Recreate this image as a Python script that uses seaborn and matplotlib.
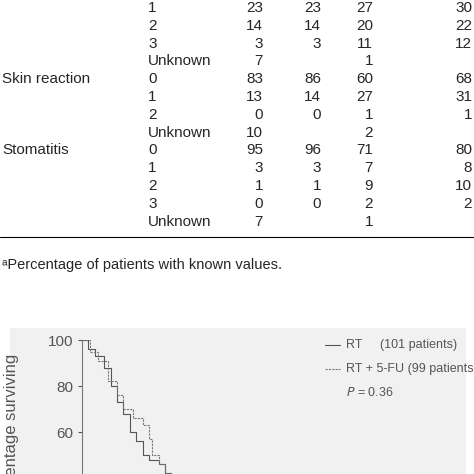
import matplotlib
matplotlib.use("Agg")
import matplotlib.pyplot as plt
import matplotlib.patches as mpatches
import seaborn as sns
import pandas as pd

sns.set_style("white")
plt.rcParams['font.family'] = ['Liberation Sans', 'DejaVu Sans']

# table rows: (toxicity label, grade, n RT, % RT, n RT+5-FU, % RT+5-FU)
row_labels = ["", "", "", "", "Skin reaction", "", "", "", "Stomatitis", "", "", "", ""]
grades = ["1", "2", "3", "Unknown", "0", "1", "2", "Unknown", "0", "1", "2", "3", "Unknown"]
col_a = ["23", "14", "3", "7", "83", "13", "0", "10", "95", "3", "1", "0", "7"]
col_b = ["23", "14", "3", "", "86", "14", "0", "", "96", "3", "1", "0", ""]
col_c = ["27", "20", "11", "1", "60", "27", "1", "2", "71", "7", "9", "2", "1"]
col_d = ["30", "22", "12", "", "68", "31", "1", "", "80", "8", "10", "2", ""]
footnote = "\u1d43Percentage of patients with known values."

# survival curves (months, % surviving)
rt_time = [0, 1, 2, 3.5, 4.5, 5.5, 6.5, 7.5, 8.5, 9.5, 10.5, 12, 13, 14]
rt_surv = [100, 96, 93, 88, 80, 73, 68, 60, 56, 50, 48, 46, 42, 38]
fu_time = [0, 1.3, 2.5, 4, 5.5, 6.5, 8, 9.5, 10.5, 11, 12, 13, 14]
fu_surv = [100, 95, 91, 82, 76, 70, 66, 63, 57, 50, 46, 42, 38]

W = H = 474
fig = plt.figure(figsize=(4.74, 4.74), dpi=100)

def fy(py):
    return 1 - py / H

cols_x = [263, 321, 373, 472]
for i in range(len(grades)):
    y = fy(8 + i * 17.8)
    fig.text(2 / W, y, row_labels[i], fontsize=11, va="center")
    fig.text(148 / W, y, grades[i], fontsize=11, va="center")
    for cx, col in zip(cols_x, [col_a, col_b, col_c, col_d]):
        fig.text(cx / W, y, col[i], fontsize=11, va="center", ha="right")

fig.add_artist(plt.Line2D([0, 1], [fy(237), fy(237)], color="black", lw=0.8))
fig.text(2 / W, fy(265), footnote, fontsize=10.5, va="center")

fig.add_artist(mpatches.Rectangle((10 / W, 0), 455 / W, fy(328), color="#f1f1f1", zorder=0))

ax = fig.add_axes([82 / W, -96 / H, 383 / W, 230 / H])
ax.patch.set_alpha(0)
df = pd.concat([
    pd.DataFrame({"t": rt_time, "s": rt_surv, "arm": "RT"}),
    pd.DataFrame({"t": fu_time, "s": fu_surv, "arm": "RT + 5-FU"}),
])
sns.lineplot(data=df[df.arm == "RT"], x="t", y="s", drawstyle="steps-post",
             color="#555555", lw=0.8, ax=ax)
sns.lineplot(data=df[df.arm == "RT + 5-FU"], x="t", y="s", drawstyle="steps-post",
             color="#777777", lw=0.8, ls=(0, (2, 1)), ax=ax)
ax.set_xlim(0, 60)
ax.set_ylim(0, 100)
ax.set_yticks([0, 20, 40, 60, 80, 100])
ax.tick_params(axis="y", labelsize=11, colors="#555555", length=3, left=True)
ax.set_xticks([])
ax.set_xlabel("")
ax.set_ylabel("Percentage surviving", fontsize=12, color="#555555")
ax.yaxis.set_label_coords(-0.165, 0.6)
for sp in ["top", "right", "bottom"]:
    ax.spines[sp].set_visible(False)
ax.spines["left"].set_color("#777777")

lx = 325
fig.add_artist(plt.Line2D([lx / W, 340 / W], [fy(345)] * 2, color="#555555", lw=0.8))
fig.text(346 / W, fy(345), "RT", fontsize=9, color="#555555", va="center")
fig.text(457 / W, fy(345), "(101 patients)", fontsize=9, color="#555555", va="center", ha="right")
fig.add_artist(plt.Line2D([lx / W, 340 / W], [fy(369)] * 2, color="#777777", lw=0.8, ls=(0, (2, 1))))
fig.text(346 / W, fy(369), "RT + 5-FU (99 patients)", fontsize=9, color="#555555", va="center")
fig.text(346 / W, fy(392), "$P$ = 0.36", fontsize=9, color="#555555", va="center")

fig.savefig("out.png", dpi=100)
